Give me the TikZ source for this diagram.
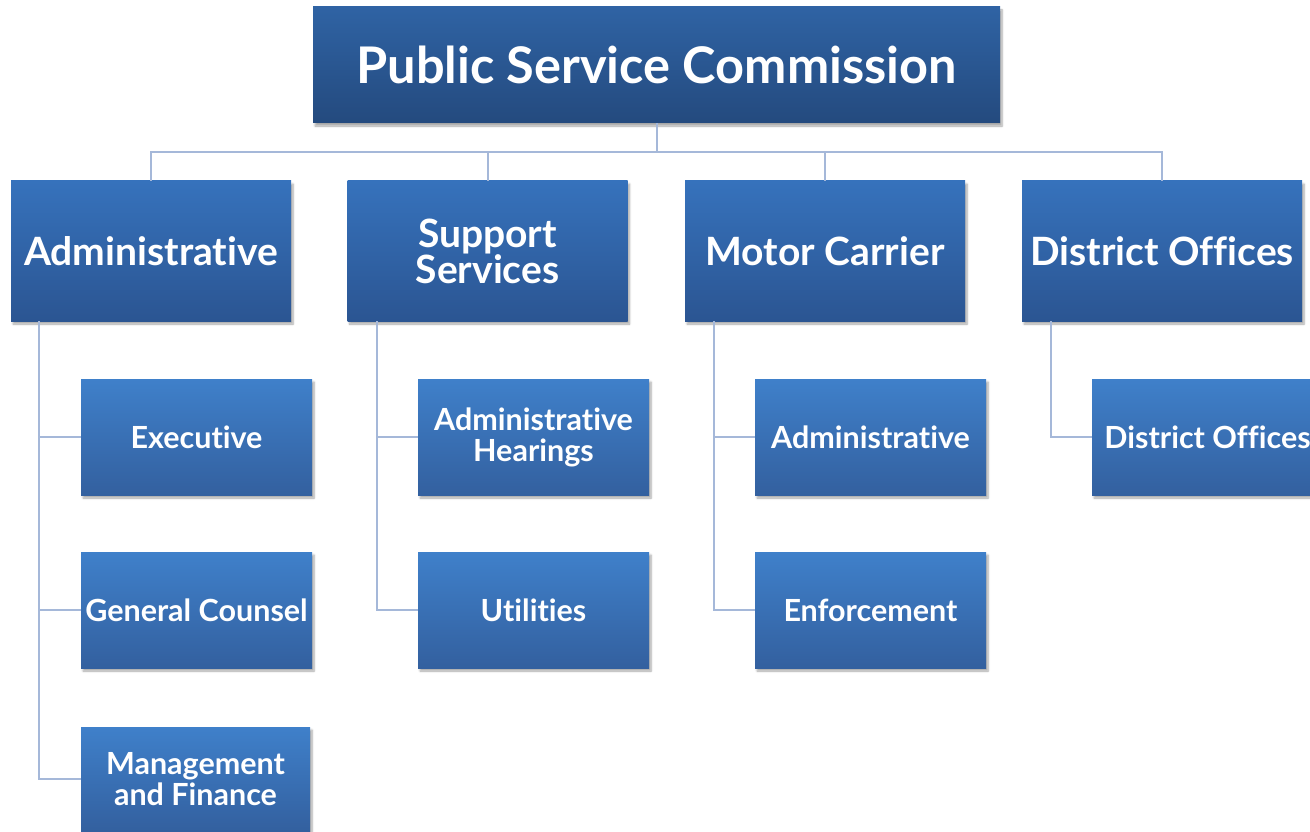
\documentclass[tikz,border=0pt]{standalone}
\usepackage{fontspec}
\setmainfont{Lato}[Ligatures=NoCommon]
\usetikzlibrary{shadows.blur}
\definecolor{linec}{HTML}{A5B8D9}
\definecolor{topA}{HTML}{2F63A4}
\definecolor{topB}{HTML}{244A7E}
\definecolor{midA}{HTML}{3672BC}
\definecolor{midB}{HTML}{2B5592}
\definecolor{lowA}{HTML}{3F80CA}
\definecolor{lowB}{HTML}{33609F}
\tikzset{
  box/.style={rectangle, inner sep=0pt, outer sep=0pt, text=white, align=center,
    blur shadow={shadow xshift=2pt, shadow yshift=-3pt, shadow blur steps=6, shadow opacity=35}},
  headbox/.style={box, top color=topA, bottom color=topB, minimum width=687pt, minimum height=116pt,
    font=\fontsize{50.5}{52}\selectfont\bfseries},
  unitbox/.style={box, top color=midA, bottom color=midB, minimum width=280pt, minimum height=140pt,
    font=\fontsize{39}{36}\selectfont\bfseries},
  subbox/.style={box, top color=lowA, bottom color=lowB, minimum width=231pt, minimum height=116pt,
    font=\fontsize{30.5}{31}\selectfont\bfseries},
  conn/.style={draw=linec, line width=2pt}
}
\begin{document}
\begin{tikzpicture}[x=1pt,y=-1pt]
\useasboundingbox (0,0) rectangle (1310,832);
\clip (0,0) rectangle (1310,832);

% head of the organisation
\node[headbox] (psc) at (656.5,65) {Public Service Commission};

% divisions
\node[unitbox] (adm) at (151,251) {Administrative};
\node[unitbox] (sup) at (487.5,251) {Support\\Services};
\node[unitbox] (mot) at (825,251) {Motor Carrier};
\node[unitbox] (dis) at (1162,251) {District Offices};

% sections
\node[subbox] (exe) at (196.5,437) {Executive};
\node[subbox] (gen) at (196.5,610) {General Counsel};
\node[subbox, minimum width=229pt, minimum height=104pt] (man) at (195.5,779) {Management\\and Finance};

\node[subbox] (hea) at (533.5,437) {Administrative\\Hearings};
\node[subbox] (uti) at (533.5,610) {Utilities};

\node[subbox] (mad) at (870.5,437) {Administrative};
\node[subbox] (enf) at (870.5,610) {Enforcement};

\node[subbox] (dof) at (1207.5,437) {District Offices};

% connectors from the head to the divisions
\coordinate (bus) at (0,152);
\draw[conn] (psc.south) -- (psc.south |- bus);
\draw[conn] (adm.north) -- (adm.north |- bus) -- (dis.north |- bus) -- (dis.north);
\draw[conn] (sup.north) -- (sup.north |- bus);
\draw[conn] (mot.north) -- (mot.north |- bus);

% connectors from the divisions to their sections
\draw[conn] ([xshift=28pt]adm.south west) |- (exe.west);
\draw[conn] ([xshift=28pt]adm.south west) |- (gen.west);
\draw[conn] ([xshift=28pt]adm.south west) |- (man.west);
\draw[conn] ([xshift=29pt]sup.south west) |- (hea.west);
\draw[conn] ([xshift=29pt]sup.south west) |- (uti.west);
\draw[conn] ([xshift=29pt]mot.south west) |- (mad.west);
\draw[conn] ([xshift=29pt]mot.south west) |- (enf.west);
\draw[conn] ([xshift=29pt]dis.south west) |- (dof.west);
\end{tikzpicture}
\end{document}
